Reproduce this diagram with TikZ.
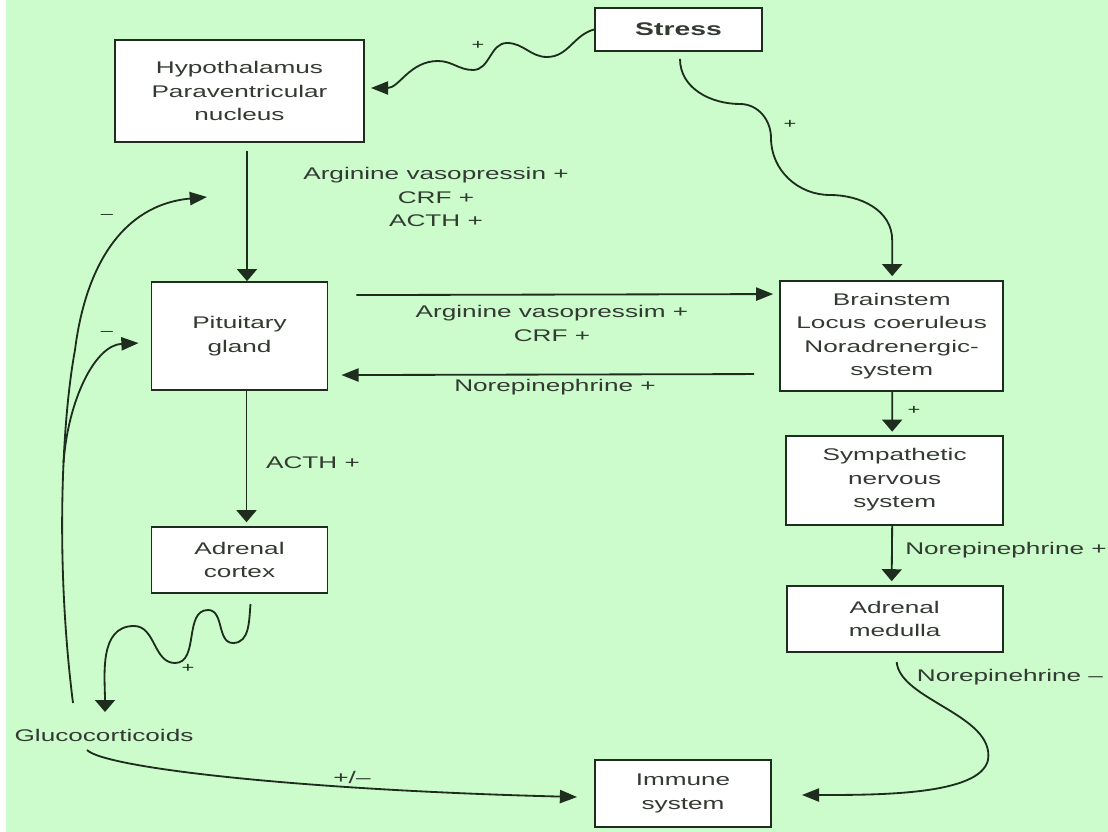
\documentclass[tikz,border=0pt]{standalone}
\usepackage{fontspec}
\setmainfont{Liberation Sans}[FakeStretch=1.55]
\usetikzlibrary{arrows.meta,positioning}
\definecolor{bggreen}{RGB}{204,252,204}
\definecolor{ink}{RGB}{30,45,30}
\definecolor{txt}{RGB}{50,58,50}

\begin{document}
\begin{tikzpicture}[x=0.025cm,y=0.025cm,node distance=1cm]
\tikzstyle{box}=[draw=ink,fill=white,line width=1.3pt,text=txt,align=center,inner sep=0pt,font=\fontsize{12}{16.7}\selectfont]
\tikzstyle{lbl}=[text=txt,align=center,inner sep=1pt,font=\fontsize{12}{16.7}\selectfont]
\tikzstyle{sgn}=[text=ink,inner sep=1pt,font=\fontsize{10}{12}\selectfont]
\tikzstyle{link}=[draw=ink,line width=1.3pt]
\tikzstyle{vtip}=[-{Triangle[width=0.5cm,length=0.3cm]}]
\tikzstyle{htip}=[-{Triangle[width=0.33cm,length=0.43cm]}]

\fill[white] (0,0) rectangle (1108,-832);
\fill[bggreen] (6,0) rectangle (1108,-832);
\useasboundingbox (0,0) rectangle (1108,-832);

\node [box,minimum width=4.175cm,minimum height=1.075cm,font=\fontsize{13}{16}\selectfont\bfseries] (stress) at (678.5,-29.5) {Stress};
\node [box,minimum width=6.225cm,minimum height=2.55cm] (hyp) at (239.5,-91) {Hypothalamus\\Paraventricular\\nucleus};
\node [box,minimum width=4.4cm,minimum height=2.7cm,below of=hyp,node distance=6.125cm] (pit) {Pituitary\\gland};
\node [box,minimum width=4.4cm,minimum height=1.65cm,below of=pit,node distance=5.6cm] (cortex) {Adrenal\\cortex};
\node [box,minimum width=5.575cm,minimum height=2.75cm,right of=pit,node distance=16.3cm] (brain) {Brainstem\\Locus coeruleus\\Noradrenergic-\\system};
\node [box,minimum width=5.425cm,minimum height=2.225cm,below of=brain,node distance=3.6cm,shift={(3,0)}] (symp) {Sympathetic\\nervous\\system};
\node [box,minimum width=5.4cm,minimum height=1.65cm,below of=symp,node distance=3.475cm] (medulla) {Adrenal\\medulla};
\node [box,minimum width=4.4cm,minimum height=1.675cm] (immune) at (683,-793.5) {Immune\\system};
\node [lbl] (gluco) at (104,-735) {Glucocorticoids};

\node [lbl] (avpa) at (436,-197) {Arginine vasopressin +\\CRF +\\ACTH +};
\node [lbl] (avpb) at (552,-323.5) {Arginine vasopressim +\\CRF +};
\node [lbl] (nea) at (555,-387) {Norepinephrine +};
\node [lbl] (actha) at (313,-463) {ACTH +};
\node [lbl] (neb) at (1006,-550) {Norepinephrine +};
\node [lbl] (nec) at (1010,-677) {Norepinehrine --};
\node [lbl] (pm) at (352,-777) {+/--};

\node [sgn] (pa) at (478,-45) {+};
\node [sgn] (pb) at (790,-124) {+};
\node [sgn] (pc) at (914,-410) {+};
\node [sgn] (pd) at (188,-668) {+};
\node [sgn] (ma) at (107,-216) {--};
\node [sgn] (mb) at (107,-333) {--};

\coordinate (fbase) at (73,-703);
\coordinate (fsplit) at (63.5,-463);
\coordinate (fbtop) at (207,-197);

\draw[link,vtip] ([shift={(7.5,-8)}]hyp.south) -- ([shift={(7.5,0)}]pit.north);
\draw[link,vtip] ([shift={(7,0)}]pit.south) -- ([shift={(7,4)}]cortex.north);
\draw[link,vtip] ([shift={(0.5,0)}]brain.south) -- ([shift={(-2.5,3)}]symp.north);
\draw[link,vtip] ([shift={(-2.5,0)}]symp.south) -- ([shift={(-3,4)}]medulla.north);

\draw[link,htip] ([shift={(28,41)}]pit.east) -- ([shift={(-6,42)}]brain.west);
\draw[link,htip] ([shift={(-25,-38)}]brain.west) -- ([shift={(13,-39)}]pit.east);

\draw[link,htip] (stress.west) to[out=195,in=0] (547,-57) to[out=180,in=0] (507,-43)
    to[out=180,in=0] (473,-70) to[out=180,in=0] (438,-61) to[out=180,in=0] ([shift={(6,3)}]hyp.east);

\draw[link,vtip] ([shift={(1.5,-7)}]stress.south) to[out=-90,in=180] (740,-104) to[out=0,in=90] (771,-138)
    to[out=-90,in=180] (830,-195) to[out=0,in=90] ([shift={(0.5,40)}]brain.north) -- ([shift={(0.5,4)}]brain.north);

\draw[link,vtip] ([shift={(11,-10)}]cortex.south) to[out=-95,in=0] (233,-643) to[out=180,in=0] (208,-610)
    to[out=180,in=0] (175,-663) to[out=180,in=0] (134,-626) to[out=180,in=90] ([shift={(1,23)}]gluco.center);

\draw[link,htip] (fbase) .. controls (55,-560) and (62,-420) .. (75,-350) .. controls (85,-270) and (120,-205) .. (fbtop);
\draw[link,htip] (fsplit) .. controls (68,-400) and (95,-345) .. ([shift={(-12,-7)}]pit.west);

\draw[link,htip] ([shift={(-17,-15)}]gluco.center) .. controls (105,-768) and (300,-790) .. ([shift={(-17,-3.5)}]immune.west);
\draw[link,htip] ([shift={(2,-9)}]medulla.south) .. controls (900,-700) and (995,-715) .. (988,-760)
    .. controls (980,-795) and (880,-795) .. ([shift={(30,-1.5)}]immune.east);

\end{tikzpicture}
\end{document}
